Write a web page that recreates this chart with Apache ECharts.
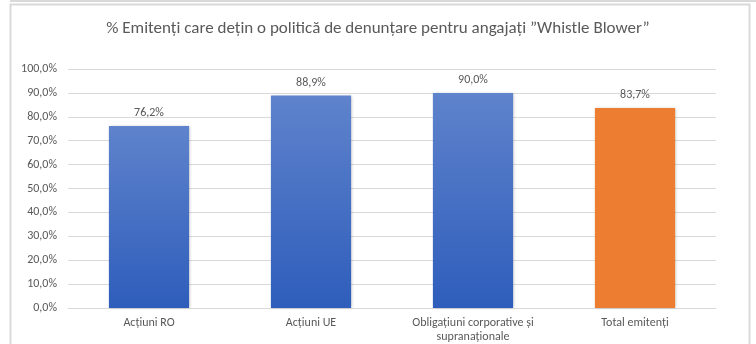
<!DOCTYPE html>
<html>
<head>
<meta charset="utf-8">
<script src="https://cdn.jsdelivr.net/npm/echarts@6/dist/echarts.min.js"></script>
<style>
  html, body { margin: 0; padding: 0; background: #ffffff; }
  #chart { width: 756px; height: 344px; }
</style>
</head>
<body>
<div id="chart"></div>
<script>
// Categories and share of issuers with a whistle-blower policy (%)
const categories = ['Acțiuni RO', 'Acțiuni UE', 'Obligațiuni corporative și\nsupranaționale', 'Total emitenți'];
const values = [76.2, 88.9, 90.0, 83.7];
const yTicks = [0, 10, 20, 30, 40, 50, 60, 70, 80, 90, 100];

const titleText = '% Emitenți care dețin o politică de denunțare pentru angajați ”Whistle Blower”';
const textColor = '#595959';
const gridColor = '#d9d9d9';
const fontFamily = 'Calibri, Carlito, "Open Sans", "Noto Sans", sans-serif';

const blueGradient = new echarts.graphic.LinearGradient(0, 0, 0, 1, [
  { offset: 0, color: '#5f83cc' },
  { offset: 1, color: '#2e5dbb' }
]);
const orange = '#ed7d31';

const fmt = v => v.toFixed(1).replace('.', ',') + '%';

const chart = echarts.init(document.getElementById('chart'), null, { renderer: 'canvas' });

chart.setOption({
  backgroundColor: '#ffffff',
  animation: false,
  graphic: [
    // frame lines around the chart
    { type: 'line', shape: { x1: 10, y1: 1, x2: 756, y2: 1 }, style: { stroke: gridColor, lineWidth: 2 } },
    { type: 'rect', shape: { x: 10.5, y: 4.5, width: 739, height: 360 }, style: { fill: 'none', stroke: gridColor, lineWidth: 2 } }
  ],
  title: {
    text: titleText,
    left: 'center',
    top: 15,
    textStyle: { color: textColor, fontSize: 17, fontWeight: 'normal', fontFamily: fontFamily }
  },
  grid: { left: 68, right: 40, top: 69, bottom: 36, containLabel: false },
  xAxis: {
    type: 'category',
    data: categories,
    axisLine: { show: true, lineStyle: { color: gridColor } },
    axisTick: { show: false },
    axisLabel: { color: textColor, fontSize: 12, fontFamily: fontFamily, margin: 8, lineHeight: 14, interval: 0 }
  },
  yAxis: {
    type: 'value',
    min: yTicks[0],
    max: yTicks[yTicks.length - 1],
    interval: 10,
    axisLine: { show: false },
    axisTick: { show: false },
    splitLine: { lineStyle: { color: gridColor, width: 1 } },
    axisLabel: { color: textColor, fontSize: 12, fontFamily: fontFamily, margin: 11, formatter: v => fmt(v) }
  },
  series: [{
    type: 'bar',
    barWidth: '49.5%',
    data: values.map((v, i) => ({
      value: v,
      itemStyle: { color: i === values.length - 1 ? orange : blueGradient }
    })),
    itemStyle: { shadowColor: 'rgba(0,0,0,0.25)', shadowBlur: 3, shadowOffsetX: 1, shadowOffsetY: 0 },
    label: {
      show: true,
      position: 'top',
      distance: 7,
      color: textColor,
      fontSize: 12,
      fontFamily: fontFamily,
      formatter: p => fmt(p.value)
    }
  }]
});
</script>
</body>
</html>
